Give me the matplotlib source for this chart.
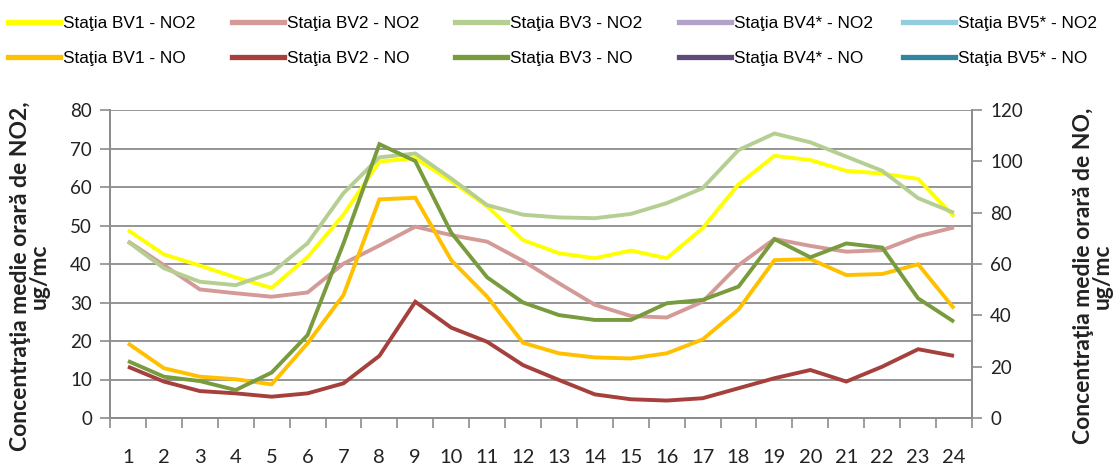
import numpy as np
import matplotlib
matplotlib.use("Agg")
import matplotlib.pyplot as plt
from matplotlib.lines import Line2D

hours = list(range(1, 25))

# NO2 (left axis, ug/mc)
bv1_no2 = [48.8, 42.5, 39.6, 36.5, 33.8, 41.8, 52.8, 66.6, 67.5, 61.5, 55.0, 46.2,
           42.8, 41.5, 43.5, 41.5, 49.3, 60.7, 68.1, 67.0, 64.2, 63.5, 62.1, 52.3]
bv2_no2 = [45.9, 39.7, 33.4, 32.4, 31.5, 32.6, 40.1, 44.8, 49.7, 47.5, 45.8, 40.8,
           35.0, 29.4, 26.5, 26.1, 30.2, 39.7, 46.5, 44.7, 43.2, 43.6, 47.2, 49.5]
bv3_no2 = [45.8, 38.9, 35.4, 34.5, 37.7, 45.4, 58.4, 67.7, 68.7, 62.2, 55.3, 52.8,
           52.1, 51.9, 53.0, 55.8, 59.7, 69.6, 73.9, 71.6, 67.9, 64.2, 57.1, 53.3]
bv4_no2 = [np.nan] * 24
bv5_no2 = [np.nan] * 24

# NO (right axis, ug/mc)
bv1_no = [29.1, 19.4, 16.1, 15.1, 13.1, 29.1, 47.9, 85.2, 85.8, 61.5, 47.3, 29.3,
          25.2, 23.6, 23.2, 25.2, 30.6, 42.3, 61.5, 61.9, 55.7, 56.1, 59.9, 42.7]
bv2_no = [20.0, 14.2, 10.5, 9.6, 8.3, 9.6, 13.5, 24.2, 45.3, 35.2, 29.7, 20.6,
          14.8, 9.2, 7.3, 6.8, 7.7, 11.6, 15.5, 18.7, 14.2, 20.0, 26.8, 24.2]
bv3_no = [22.2, 16.1, 14.4, 10.9, 17.7, 32.3, 68.0, 106.7, 100.1, 72.2, 54.8, 45.0,
          40.1, 38.2, 38.2, 44.7, 46.0, 51.2, 69.7, 62.6, 68.0, 66.4, 46.6, 37.5]
bv4_no = [np.nan] * 24
bv5_no = [np.nan] * 24

labels_no2 = ["Staţia BV1 - NO2", "Staţia BV2 - NO2", "Staţia BV3 - NO2",
              "Staţia BV4* - NO2", "Staţia BV5* - NO2"]
labels_no = ["Staţia BV1 - NO", "Staţia BV2 - NO", "Staţia BV3 - NO",
             "Staţia BV4* - NO", "Staţia BV5* - NO"]
colors_no2 = ["#FFFF00", "#D49A97", "#B5CF92", "#B3A2C7", "#93CDDD"]
colors_no = ["#FFC000", "#A5403D", "#789B3E", "#604A7B", "#31859C"]

GRID = "#8C8C8C"
TXT = "#222222"
TICKFONT = "Lato"
W, H = 1114, 468

fig = plt.figure(figsize=(W / 100, H / 100), dpi=100)
ax = fig.add_axes([110 / W, 1 - 418 / H, 862 / W, 308 / H])
ax2 = ax.twinx()

lw = 2.8
no2_series = [bv1_no2, bv2_no2, bv3_no2, bv4_no2, bv5_no2]
no_series = [bv1_no, bv2_no, bv3_no, bv4_no, bv5_no]
for s, c in zip(no2_series, colors_no2):
    ax.plot(hours, s, color=c, lw=lw, solid_capstyle="butt", solid_joinstyle="miter")
for s, c in zip(no_series, colors_no):
    ax2.plot(hours, s, color=c, lw=lw, solid_capstyle="butt", solid_joinstyle="miter")

ax.set_xlim(0.5, 24.5)
ax.set_ylim(0, 80)
ax2.set_ylim(0, 120)
ax.set_yticks(range(0, 81, 10))
ax2.set_yticks(range(0, 121, 20))
ax.set_xticks(hours)
ax.set_xticks(np.arange(0.5, 25, 1), minor=True)
ax.tick_params(axis="x", which="major", length=0, pad=22, labelsize=14.5, labelcolor=TXT)
ax.tick_params(axis="x", which="minor", length=7, width=1.2, color=GRID)
ax.tick_params(axis="y", length=7, width=1.2, color=GRID, labelsize=13.5, labelcolor=TXT, pad=6)
ax2.tick_params(axis="y", length=7, width=1.2, color=GRID, labelsize=13.5, labelcolor=TXT, pad=6)
for a in (ax, ax2):
    for lab in a.get_xticklabels() + a.get_yticklabels():
        lab.set_fontfamily(TICKFONT)

ax.yaxis.grid(True, color=GRID, lw=1.3)
ax.set_axisbelow(True)
for a in (ax, ax2):
    a.spines["top"].set_visible(False)
    for side in ("left", "right", "bottom"):
        a.spines[side].set_color(GRID)
        a.spines[side].set_linewidth(1.3)

fig.text(30 / W, 1 - 276 / H, "Concentraţia medie orară de NO2,\nug/mc",
         rotation=90, ha="center", va="center", multialignment="center",
         fontsize=16.5, fontweight="bold", fontfamily="Lato", color=TXT, linespacing=0.9)
fig.text(1093 / W, 1 - 276 / H, "Concentraţia medie orară de NO,\nug/mc",
         rotation=90, ha="center", va="center", multialignment="center",
         fontsize=16.5, fontweight="bold", fontfamily="Lato", color=TXT, linespacing=0.9)

# legend: five equal-width columns, NO2 on the first row, NO on the second
col_x = [8, 232, 455, 679, 903]
for i in range(5):
    h = [Line2D([], [], color=colors_no2[i], lw=3.8),
         Line2D([], [], color=colors_no[i], lw=3.8)]
    fig.legend(h, [labels_no2[i], labels_no[i]], loc="upper left",
               bbox_to_anchor=(col_x[i] / W, 1 - 16 / H), frameon=False,
               prop={"family": "Liberation Sans", "size": 12.4},
               handlelength=3.0, handletextpad=0.17, labelspacing=1.15,
               borderpad=0, borderaxespad=0)

fig.savefig("out.png", dpi=100)
